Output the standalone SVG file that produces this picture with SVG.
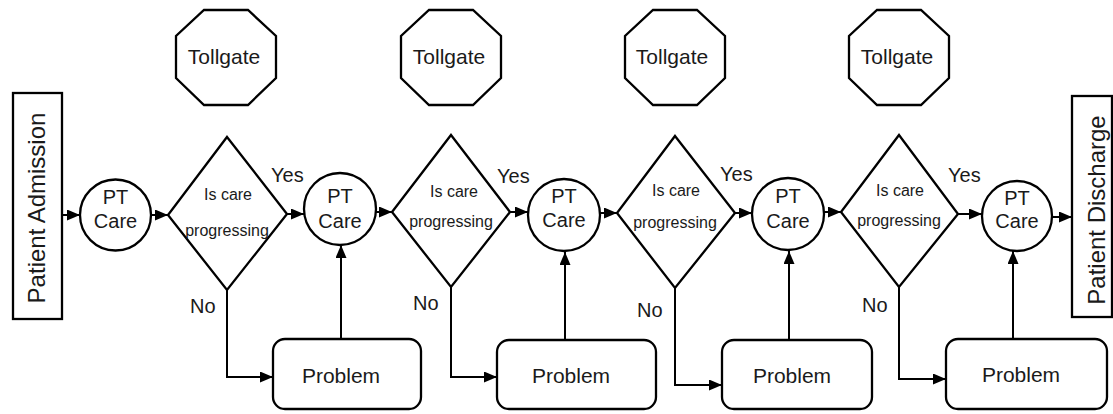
<svg xmlns="http://www.w3.org/2000/svg" width="1113" height="414" viewBox="0 0 1113 414">
<defs>
<style>
.s{fill:#fff;stroke:#000;stroke-width:2.3}
.c{fill:none;stroke:#000;stroke-width:2}
text{font-family:"Liberation Sans",Arial,sans-serif;fill:#1a1a1a}
.t20{font-size:20px}
.t21{font-size:21px}
.t16{font-size:16px}
.t24{font-size:24px}
.m{text-anchor:middle}
</style>
<marker id="ah" markerUnits="userSpaceOnUse" markerWidth="14" markerHeight="12" refX="13" refY="5.5" orient="auto">
<path d="M0,0 L13,5.5 L0,11 z" fill="#000"/>
</marker>
</defs>
<rect width="1113" height="414" fill="#fff"/>

<g id="connectors">
<line class="c" x1="62" y1="215" x2="80" y2="215" marker-end="url(#ah)"/>
<line class="c" x1="151" y1="215" x2="168" y2="215" marker-end="url(#ah)"/>
<line class="c" x1="287" y1="214" x2="304" y2="214" marker-end="url(#ah)"/>
<line class="c" x1="376" y1="212" x2="392" y2="212" marker-end="url(#ah)"/>
<line class="c" x1="510" y1="212" x2="528" y2="212" marker-end="url(#ah)"/>
<line class="c" x1="600" y1="213" x2="617" y2="213" marker-end="url(#ah)"/>
<line class="c" x1="735" y1="213" x2="752" y2="213" marker-end="url(#ah)"/>
<line class="c" x1="824" y1="212" x2="841" y2="212" marker-end="url(#ah)"/>
<line class="c" x1="958" y1="214" x2="982" y2="214" marker-end="url(#ah)"/>
<line class="c" x1="1052" y1="217" x2="1072" y2="217" marker-end="url(#ah)"/>
<polyline class="c" points="227,290 227,377 273,377" marker-end="url(#ah)"/>
<polyline class="c" points="451,287 451,377 497,377" marker-end="url(#ah)"/>
<polyline class="c" points="675,288 675,385 722,385" marker-end="url(#ah)"/>
<polyline class="c" points="899,287 899,379 946,379" marker-end="url(#ah)"/>
<line class="c" x1="341" y1="339" x2="341" y2="245" marker-end="url(#ah)"/>
<line class="c" x1="565" y1="340" x2="565" y2="252" marker-end="url(#ah)"/>
<line class="c" x1="789" y1="340" x2="789" y2="251" marker-end="url(#ah)"/>
<line class="c" x1="1013" y1="339" x2="1013" y2="251" marker-end="url(#ah)"/>
<text class="t20" x="271" y="182">Yes</text>
<text class="t20" x="497" y="183">Yes</text>
<text class="t20" x="720" y="181">Yes</text>
<text class="t20" x="948" y="182">Yes</text>
<text class="t20" x="190" y="313">No</text>
<text class="t20" x="413" y="310">No</text>
<text class="t20" x="637" y="317">No</text>
<text class="t20" x="862" y="312">No</text>
</g>

<g id="admission">
<rect class="s" x="13" y="93" width="49" height="226"/>
<text class="t24 m" transform="translate(45,208) rotate(-90)">Patient Admission</text>
</g>
<g id="discharge">
<rect class="s" x="1072" y="96" width="40" height="221"/>
<text class="t24 m" transform="translate(1105,210) rotate(-90)">Patient Discharge</text>
</g>

<g id="tollgate1">
<polygon class="s" points="204,10 248,10 276,36 276,78 248,105 204,105 176,78 176,36"/>
<text class="t21 m" x="224" y="64">Tollgate</text>
</g>
<g id="tollgate2">
<polygon class="s" points="429,10 473,10 501,36 501,78 473,105 429,105 401,78 401,36"/>
<text class="t21 m" x="449" y="64">Tollgate</text>
</g>
<g id="tollgate3">
<polygon class="s" points="653,10 697,10 725,36 725,78 697,105 653,105 625,78 625,36"/>
<text class="t21 m" x="672" y="64">Tollgate</text>
</g>
<g id="tollgate4">
<polygon class="s" points="877,10 921,10 949,36 949,78 921,105 877,105 849,78 849,36"/>
<text class="t21 m" x="897" y="64">Tollgate</text>
</g>

<g id="care1">
<circle class="s" cx="115.5" cy="215" r="35.5"/>
<text class="t20 m" x="115.5" y="204">PT</text>
<text class="t20 m" x="115.5" y="228">Care</text>
</g>
<g id="care2">
<circle class="s" cx="340" cy="209" r="36"/>
<text class="t20 m" x="340" y="203">PT</text>
<text class="t20 m" x="340" y="228">Care</text>
</g>
<g id="care3">
<circle class="s" cx="564" cy="215" r="36"/>
<text class="t20 m" x="564" y="203">PT</text>
<text class="t20 m" x="564" y="227">Care</text>
</g>
<g id="care4">
<circle class="s" cx="788" cy="214" r="36"/>
<text class="t20 m" x="788" y="203">PT</text>
<text class="t20 m" x="788" y="228">Care</text>
</g>
<g id="care5">
<circle class="s" cx="1017" cy="216" r="35"/>
<text class="t20 m" x="1017" y="205">PT</text>
<text class="t20 m" x="1017" y="228">Care</text>
</g>

<g id="decision1">
<polygon class="s" points="227,137 287,214 227,290 168,215"/>
<text class="t16 m" x="228" y="200">Is care</text>
<text class="t16 m" x="227" y="236">progressing</text>
</g>
<g id="decision2">
<polygon class="s" points="451,135 510,212 451,287 392,212"/>
<text class="t16 m" x="454" y="197">Is care</text>
<text class="t16 m" x="451" y="227">progressing</text>
</g>
<g id="decision3">
<polygon class="s" points="675,136 735,213 675,288 617,213"/>
<text class="t16 m" x="676" y="196">Is care</text>
<text class="t16 m" x="675" y="228">progressing</text>
</g>
<g id="decision4">
<polygon class="s" points="899,135 958,214 899,287 841,212"/>
<text class="t16 m" x="900" y="196">Is care</text>
<text class="t16 m" x="899" y="226">progressing</text>
</g>

<g id="problem1">
<rect class="s" x="273" y="339" width="148" height="70" rx="12"/>
<text class="t21 m" x="341" y="383">Problem</text>
</g>
<g id="problem2">
<rect class="s" x="497" y="340" width="159" height="69" rx="12"/>
<text class="t21 m" x="571" y="383">Problem</text>
</g>
<g id="problem3">
<rect class="s" x="722" y="340" width="150" height="69" rx="12"/>
<text class="t21 m" x="792" y="383">Problem</text>
</g>
<g id="problem4">
<rect class="s" x="946" y="339" width="161" height="70" rx="12"/>
<text class="t21 m" x="1021" y="382">Problem</text>
</g>
</svg>
